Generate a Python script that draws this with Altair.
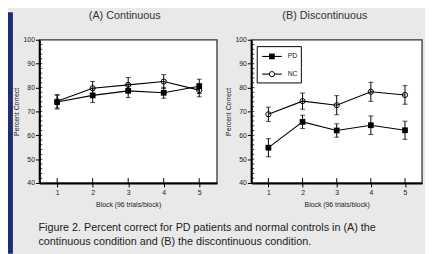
import altair as alt
import pandas as pd

# ---- data ----
blocks = [1, 2, 3, 4, 5]
series_names = ["PD", "NC"]

a_pd = [73.9, 76.7, 78.6, 77.8, 80.5]
a_pd_err = [2.9, 3.0, 2.8, 2.3, 3.0]
a_nc = [74.2, 79.7, 81.1, 82.5, 78.9]
a_nc_err = [2.8, 2.8, 3.1, 2.9, 2.8]

b_pd = [54.8, 65.6, 62.0, 64.2, 62.1]
b_pd_err = [3.8, 2.8, 2.8, 3.9, 3.8]
b_nc = [68.8, 74.3, 72.6, 78.2, 76.9]
b_nc_err = [3.0, 3.4, 4.0, 4.0, 3.9]

y_major = [40, 50, 60, 70, 80, 90, 100]
y_minor = list(range(42, 100, 2))

panel_titles = ["(A) Continuous", "(B) Discontinuous"]
x_title = "Block (96 trials/block)"
y_title = "Percent Correct"
caption = [
    "Figure 2. Percent correct for PD patients and normal controls in (A) the",
    "continuous condition and (B) the discontinuous condition.",
]

FONT = "Liberation Sans"
BG = "#e9e9e9"
W_A, W_B, H = 181, 174, 146


def make_df(pd_vals, pd_err, nc_vals, nc_err):
    rows = []
    for s, vals, errs in (("NC", nc_vals, nc_err), ("PD", pd_vals, pd_err)):
        for b, v, e in zip(blocks, vals, errs):
            rows.append({"block": b, "series": s, "mean": v, "lo": v - e, "hi": v + e})
    return pd.DataFrame(rows)


one = alt.Data(values=[{}])
minor_df = pd.DataFrame({"v": y_minor})
block_df = pd.DataFrame({"block": blocks})

xscale = alt.Scale(domain=[0.5, 5.5], nice=False)
yscale = alt.Scale(domain=[40, 100], nice=False, zero=False)

x_axis = alt.Axis(values=blocks, title=x_title, grid=False, tickSize=4, tickColor="black",
                  tickWidth=1, domainColor="black", domainWidth=2, labelFont=FONT,
                  labelFontSize=7, labelColor="#222", labelPadding=2, titleFont=FONT,
                  titleFontSize=7, titleFontWeight="normal", titleColor="#222",
                  titlePadding=5, zindex=1)
y_axis = alt.Axis(values=y_major, title=y_title, grid=False, tickSize=4, tickColor="black",
                  tickWidth=1, domainColor="black", domainWidth=2, labelFont=FONT,
                  labelFontSize=7, labelColor="#222", labelPadding=1, titleFont=FONT,
                  titleFontSize=7, titleFontWeight="normal", titleColor="#222",
                  titlePadding=4, zindex=1)


def X(field):
    return alt.X(f"{field}:Q", scale=xscale, axis=x_axis)


def Y(field):
    return alt.Y(f"{field}:Q", scale=yscale, axis=y_axis)


def panel(df, width, title_text, title_x, first=False, legend=False):
    layers = []
    if first:
        layers.append(alt.Chart(one).mark_rect(fill=BG).encode(
            x=alt.value(-32), x2=alt.value(393), y=alt.value(-28), y2=alt.value(218)))
        layers.append(alt.Chart(one).mark_rect(fill="#1f2a78").encode(
            x=alt.value(-32), x2=alt.value(-27), y=alt.value(-28), y2=alt.value(218)))
        for i, line in enumerate(caption):
            layers.append(alt.Chart(one).mark_text(
                text=line, font=FONT, fontSize=11, color="#222", align="left",
                baseline="middle").encode(x=alt.value(-1), y=alt.value(192 + 14 * i)))
    layers.append(alt.Chart(one).mark_rect(fill="white", stroke="#333", strokeWidth=1.3).encode(
        x=alt.value(0), x2=alt.value(width), y=alt.value(0), y2=alt.value(H)))
    layers.append(alt.Chart(one).mark_text(
        text=title_text, font=FONT, fontSize=11, color="#333", align="center",
        baseline="middle").encode(x=alt.value(title_x), y=alt.value(-24)))
    # minor y ticks (inside)
    layers.append(alt.Chart(minor_df).mark_rule(color="black", strokeWidth=0.8).encode(
        y=Y("v"), x=alt.value(0), x2=alt.value(3)))
    # inward part of x ticks
    layers.append(alt.Chart(block_df).mark_rule(color="black", strokeWidth=1).encode(
        x=X("block"), y=alt.value(H), y2=alt.value(H - 5)))
    base = alt.Chart(df)
    layers.append(base.mark_rule(color="black", strokeWidth=1).encode(
        x=X("block"), y=Y("lo"), y2="hi:Q"))
    layers.append(base.mark_tick(color="black", orient="horizontal", size=5, thickness=1).encode(
        x=X("block"), y=Y("lo")))
    layers.append(base.mark_tick(color="black", orient="horizontal", size=5, thickness=1).encode(
        x=X("block"), y=Y("hi")))
    layers.append(base.mark_line(color="black", strokeWidth=1.1).encode(
        x=X("block"), y=Y("mean"), detail="series:N"))
    layers.append(base.transform_filter(alt.datum.series == "NC").mark_point(
        shape="circle", filled=False, color="black", size=28, strokeWidth=1, opacity=1).encode(
        x=X("block"), y=Y("mean")))
    layers.append(base.transform_filter(alt.datum.series == "PD").mark_point(
        shape="square", filled=True, color="black", size=34, opacity=1).encode(
        x=X("block"), y=Y("mean")))
    if legend:
        layers.append(alt.Chart(one).mark_rect(fill="white", stroke="black", strokeWidth=1).encode(
            x=alt.value(6), x2=alt.value(51), y=alt.value(7), y2=alt.value(44)))
        for i, name in enumerate(series_names):
            yy = 17 + 18 * i
            layers.append(alt.Chart(one).mark_rule(color="black", strokeWidth=1.1).encode(
                x=alt.value(11), x2=alt.value(31), y=alt.value(yy)))
            if name == "PD":
                layers.append(alt.Chart(one).mark_point(
                    shape="square", filled=True, color="black", size=34, opacity=1).encode(
                    x=alt.value(21), y=alt.value(yy)))
            else:
                layers.append(alt.Chart(one).mark_point(
                    shape="circle", filled=True, fill="white", stroke="black", strokeWidth=1,
                    size=28, opacity=1).encode(x=alt.value(21), y=alt.value(yy)))
            layers.append(alt.Chart(one).mark_text(
                text=name, font=FONT, fontSize=7, color="#222", align="left",
                baseline="middle").encode(x=alt.value(37), y=alt.value(yy)))
    return alt.layer(*layers).properties(width=width, height=H)


pa = panel(make_df(a_pd, a_pd_err, a_nc, a_nc_err), W_A, panel_titles[0], 87, first=True)
pb = panel(make_df(b_pd, b_pd_err, b_nc, b_nc_err), W_B, panel_titles[1], 75, legend=True)

chart = alt.hconcat(pa, pb, spacing=35, bounds="flush").properties(
    background=BG, padding=0, autosize=alt.AutoSizeParams(type="pad")
).configure_view(stroke=None)

chart.save("out.html", embed_options={"renderer": "svg", "actions": False})
